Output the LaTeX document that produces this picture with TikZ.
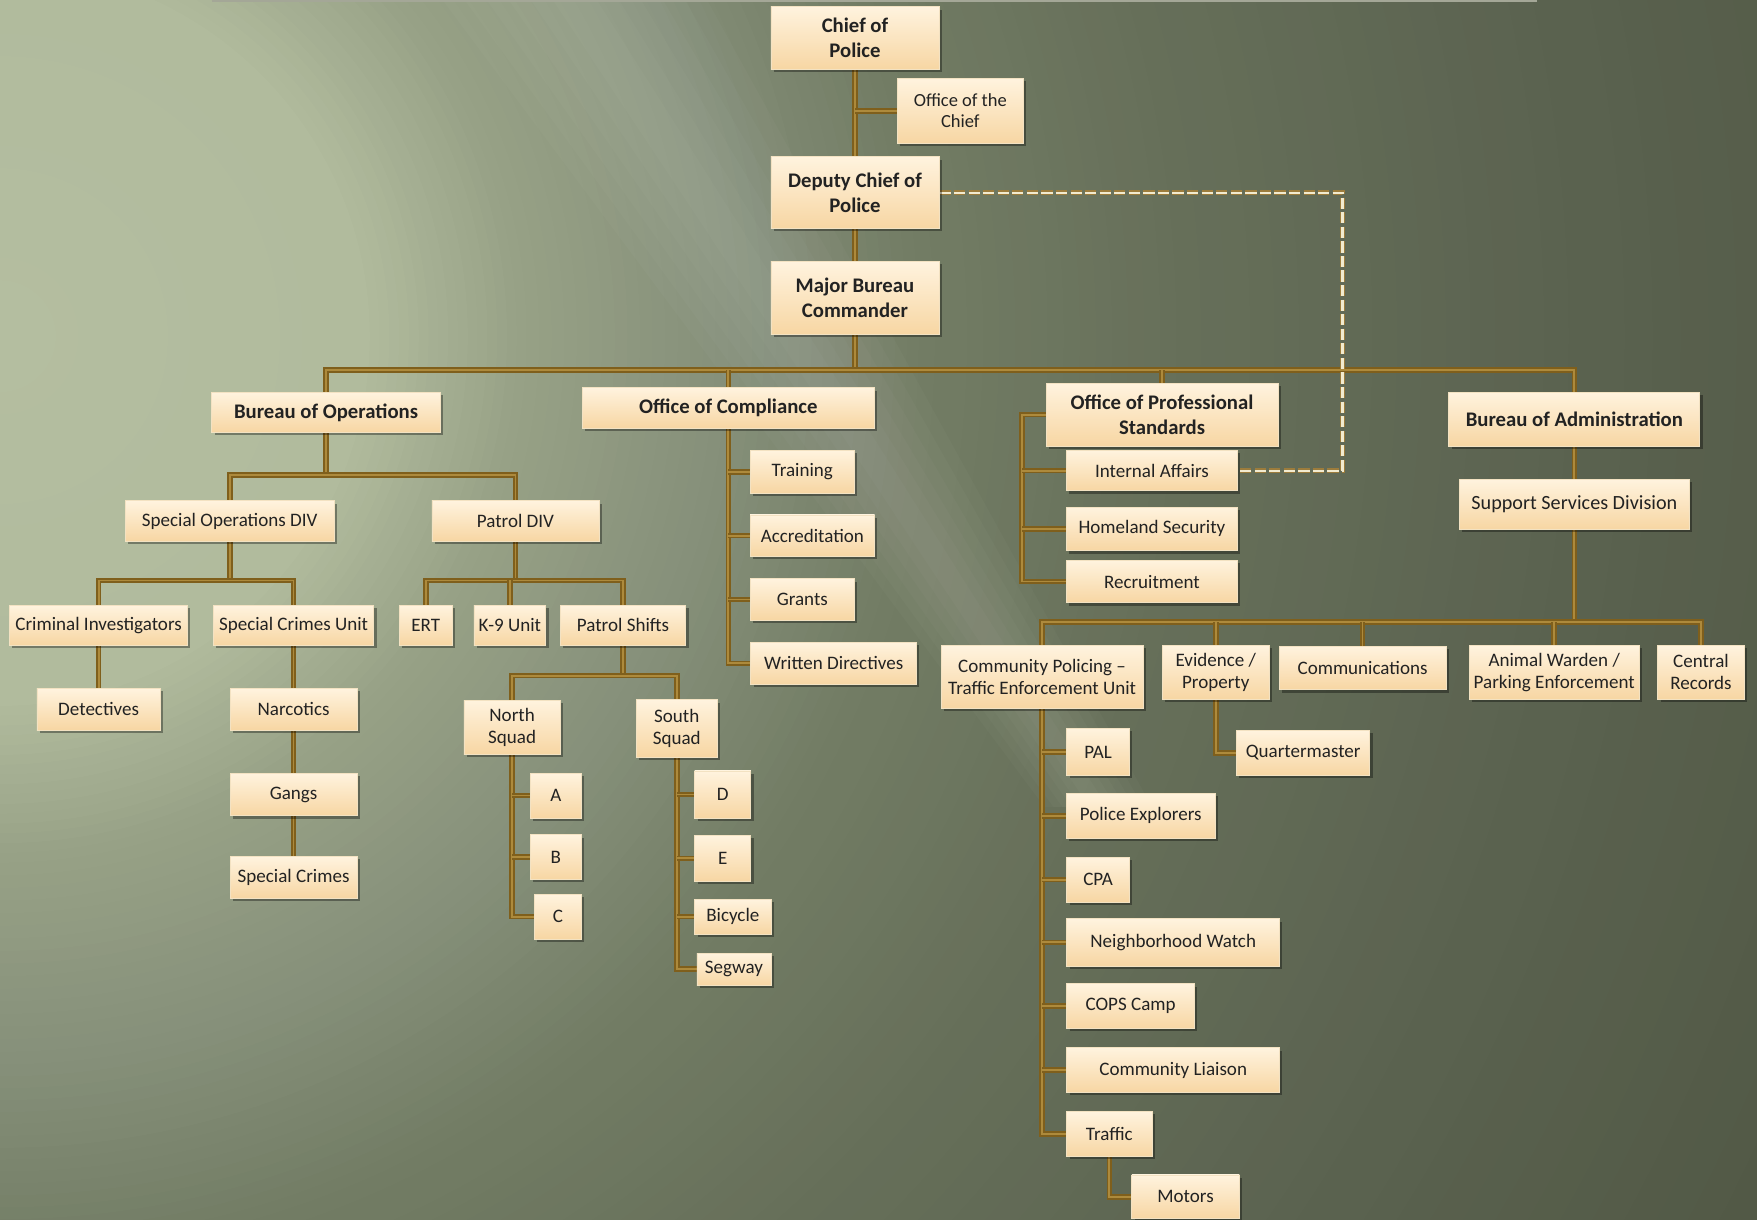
\documentclass[tikz,border=0pt]{standalone}
\usepackage{fontspec}
\setmainfont{Carlito}
\usetikzlibrary{shadows}
\definecolor{bgA}{HTML}{B4BEA0}
\definecolor{bgB}{HTML}{B1BB9D}
\definecolor{bgC}{HTML}{97A186}
\definecolor{bgD}{HTML}{86907A}
\definecolor{bgE}{HTML}{737D65}
\definecolor{bgF}{HTML}{67705A}
\definecolor{bgG}{HTML}{5B6350}
\definecolor{bgH}{HTML}{515845}
\definecolor{boxtop}{HTML}{FFF3DE}
\definecolor{boxbot}{HTML}{F7D6A3}
\definecolor{boxline}{HTML}{F3E2C2}
\definecolor{boxtext}{HTML}{222222}
\definecolor{lineout}{HTML}{7F5F1C}
\definecolor{linein}{HTML}{AD8A3C}
\definecolor{dashout}{HTML}{9C7C3C}
\definecolor{dashin}{HTML}{F2EBD0}
\definecolor{topln}{HTML}{A4A797}
\pgfdeclarelayer{bglayer}
\pgfdeclarelayer{lines}
\pgfsetlayers{bglayer,lines,main}
\begin{document}
\begin{tikzpicture}[x=1pt,y=-1pt,
  box/.style={draw=boxline, line width=0.7pt, top color=boxtop, bottom color=boxbot,
    drop shadow={shadow xshift=2.5pt,shadow yshift=-2.5pt,opacity=0.35,fill=black},
    text=boxtext, align=center, inner sep=1pt, font=\fontsize{17}{19.5}\selectfont},
  bbox/.style={box, font=\bfseries\fontsize{18.5}{22}\selectfont},
  conn/.style={draw=lineout, line width=5pt, postaction={draw=linein, line width=1.6pt}},
  dashconn/.style={draw=dashout, line width=4.4pt, dash pattern=on 10pt off 3pt,
    postaction={draw=dashin, line width=2pt, dash pattern=on 10pt off 3pt}}]
\useasboundingbox (0,0) rectangle (1568,1088);
\begin{pgfonlayer}{bglayer}
\begin{scope}
\clip (0,0) rectangle (1568,1088);
\fill[bgH] (0,0) rectangle (1568,1088);
\foreach \ro/\ri/\co/\ci in {1800/1400/bgH/bgG,1400/1050/bgG/bgF,1050/820/bgF/bgE,820/650/bgE/bgD,650/470/bgD/bgC,470/330/bgC/bgB,330/10/bgB/bgA}{
  \foreach \k in {0,...,16}{
    \pgfmathsetmacro\rr{\ro-(\ro-\ri)*\k/16}
    \pgfmathtruncatemacro\pp{100*\k/16}
    \fill[\ci!\pp!\co] (0,300) circle[radius=\rr];
  }
}
\foreach \w in {20,40,60,80,100,120}{
  \fill[white,opacity=0.022] (500-\w,-20) -- (500+\w,-20) -- (980+0.4*\w,720) -- (980-0.4*\w,720) -- cycle;
}
\draw[topln, line width=1.6pt] (189,1) -- (1372,1);
\end{scope}
\end{pgfonlayer}

% top chain
\node[bbox, minimum width=150pt, minimum height=56pt] (chief) at (763,34) {Chief of\\Police};
\node[box, minimum width=113pt, minimum height=58pt, font=\fontsize{16.5}{19}\selectfont] (office) at (857,99) {Office of the\\Chief};
\node[bbox, minimum width=150pt, minimum height=64pt] (deputy) at (763,172) {Deputy Chief of\\Police};
\node[bbox, minimum width=150pt, minimum height=65pt] (major) at (763,266) {Major Bureau\\Commander};
% bureaus
\node[bbox, minimum width=204pt, minimum height=36pt] (bops) at (291,368) {Bureau of Operations};
\node[bbox, minimum width=260pt, minimum height=36pt] (comp) at (650,364) {Office of Compliance};
\node[bbox, minimum width=207pt, minimum height=56pt] (ops) at (1037,370) {Office of Professional\\Standards};
\node[bbox, minimum width=224pt, minimum height=48pt] (badm) at (1405,374) {Bureau of Administration};
% operations
\node[box, minimum width=186pt, minimum height=36pt] (sod) at (205,465) {Special Operations DIV};
\node[box, minimum width=149pt, minimum height=36pt] (pdiv) at (460,465) {Patrol DIV};
\node[box, minimum width=159pt, minimum height=36pt] (crim) at (88,558) {Criminal Investigators};
\node[box, minimum width=143pt, minimum height=36pt] (scu) at (262,558) {Special Crimes Unit};
\node[box, minimum width=110pt, minimum height=37pt] (det) at (88,633) {Detectives};
\node[box, minimum width=113pt, minimum height=37pt] (narc) at (262,633) {Narcotics};
\node[box, minimum width=113pt, minimum height=38pt] (gangs) at (262,709) {Gangs};
\node[box, minimum width=113pt, minimum height=37pt] (spc) at (262,783) {Special Crimes};
\node[box, minimum width=47pt, minimum height=36pt] (ert) at (380,558) {ERT};
\node[box, minimum width=64pt, minimum height=36pt] (k9) at (455,558) {K-9 Unit};
\node[box, minimum width=112pt, minimum height=36pt] (ps) at (556,558) {Patrol Shifts};
\node[box, minimum width=86pt, minimum height=48pt] (ns) at (457,649) {North\\Squad};
\node[box, minimum width=72pt, minimum height=51pt] (ss) at (604,650) {South\\Squad};
\node[box, minimum width=45pt, minimum height=40pt] (a) at (496,710) {A};
\node[box, minimum width=45pt, minimum height=40pt] (b) at (496,765) {B};
\node[box, minimum width=42pt, minimum height=40pt] (c) at (498,818) {C};
\node[box, minimum width=50pt, minimum height=42pt] (d) at (645,709) {D};
\node[box, minimum width=50pt, minimum height=41pt] (e) at (645,766) {E};
\node[box, minimum width=68pt, minimum height=31pt] (bic) at (654,818) {Bicycle};
\node[box, minimum width=66pt, minimum height=29pt] (seg) at (655,865) {Segway};
% compliance
\node[box, minimum width=93pt, minimum height=38pt] (train) at (716,421) {Training};
\node[box, minimum width=111pt, minimum height=37pt] (accr) at (725,478) {Accreditation};
\node[box, minimum width=93pt, minimum height=37pt] (grants) at (716,535) {Grants};
\node[box, minimum width=148pt, minimum height=38pt] (wd) at (744,592) {Written Directives};
% professional standards
\node[box, minimum width=153pt, minimum height=36pt] (ia) at (1028,420) {Internal Affairs};
\node[box, minimum width=153pt, minimum height=39pt] (hs) at (1028,472) {Homeland Security};
\node[box, minimum width=153pt, minimum height=38pt] (rec) at (1028,519) {Recruitment};
% administration
\node[box, minimum width=205pt, minimum height=45pt, font=\fontsize{18}{21}\selectfont] (ssd) at (1405,450) {Support Services Division};
\node[box, minimum width=180pt, minimum height=56pt] (cp) at (930,604) {Community Policing –\\Traffic Enforcement Unit};
\node[box, minimum width=95pt, minimum height=48pt] (ev) at (1085,600) {Evidence /\\Property};
\node[box, minimum width=149pt, minimum height=39pt] (comm) at (1216,596) {Communications};
\node[box, minimum width=152pt, minimum height=48pt] (aw) at (1387,600) {Animal Warden /\\Parking Enforcement};
\node[box, minimum width=77pt, minimum height=48pt] (cr) at (1518,600) {Central\\Records};
\node[box, minimum width=119pt, minimum height=40pt] (qm) at (1163,672) {Quartermaster};
\node[box, minimum width=56pt, minimum height=42pt] (pal) at (980,671) {PAL};
\node[box, minimum width=133pt, minimum height=40pt] (pe) at (1018,728) {Police Explorers};
\node[box, minimum width=56pt, minimum height=40pt] (cpa) at (980,785) {CPA};
\node[box, minimum width=190pt, minimum height=42pt] (nw) at (1047,841) {Neighborhood Watch};
\node[box, minimum width=114pt, minimum height=40pt] (cops) at (1009,898) {COPS Camp};
\node[box, minimum width=190pt, minimum height=40pt] (cl) at (1047,955) {Community Liaison};
\node[box, minimum width=76pt, minimum height=40pt] (traffic) at (990,1012) {Traffic};
\node[box, minimum width=96pt, minimum height=39pt] (motors) at (1058,1068) {Motors};

\begin{pgfonlayer}{lines}
\coordinate (ybus) at (0,330);
\coordinate (yops) at (0,424);
\coordinate (ysod) at (0,518);
\coordinate (yps) at (0,603);
\coordinate (yadm) at (0,555);
\coordinate (xops) at (912,0);
\coordinate (xdash) at (1198,0);
\draw[conn] (chief.south) -- (deputy.north);
\draw[conn] (office.west) -- (chief.south |- office.west);
\draw[conn] (deputy.south) -- (major.north);
\draw[conn] (major.south) -- (major.south |- ybus);
\draw[conn] (bops.north) |- (badm.north |- ybus) -- (badm.north);
\draw[conn] (comp.north) -- (comp.north |- ybus);
\draw[conn] (ops.north) -- (ops.north |- ybus);
% operations
\draw[conn] (bops.south) -- (bops.south |- yops);
\draw[conn] (sod.north) |- (pdiv.north |- yops) -- (pdiv.north);
\draw[conn] (sod.south) -- (sod.south |- ysod);
\draw[conn] (crim.north) |- (scu.north |- ysod) -- (scu.north);
\draw[conn] (crim.south) -- (det.north);
\draw[conn] (scu.south) -- (narc.north);
\draw[conn] (narc.south) -- (gangs.north);
\draw[conn] (gangs.south) -- (spc.north);
\draw[conn] (pdiv.south) -- (pdiv.south |- ysod);
\draw[conn] (ert.north) |- (ps.north |- ysod) -- (ps.north);
\draw[conn] (k9.north) -- (k9.north |- ysod);
\draw[conn] (ps.south) -- (ps.south |- yps);
\draw[conn] (ns.north) |- (ss.north |- yps) -- (ss.north);
\draw[conn] (ns.south) |- (c.west);
\draw[conn] (a.west) -- (a.west -| ns.south);
\draw[conn] (b.west) -- (b.west -| ns.south);
\draw[conn] (ss.south) |- (seg.west);
\draw[conn] (d.west) -- (d.west -| ss.south);
\draw[conn] (e.west) -- (e.west -| ss.south);
\draw[conn] (bic.west) -- (bic.west -| ss.south);
% compliance
\draw[conn] (comp.south) |- (wd.west);
\draw[conn] (train.west) -- (train.west -| comp.south);
\draw[conn] (accr.west) -- (accr.west -| comp.south);
\draw[conn] (grants.west) -- (grants.west -| comp.south);
% professional standards
\draw[conn] (ops.west) -| (xops |- rec.west) -- (rec.west);
\draw[conn] (ia.west) -- (ia.west -| xops);
\draw[conn] (hs.west) -- (hs.west -| xops);
\draw[dashconn] (deputy.east) -- (deputy.east -| xdash) -- (xdash |- ia.east) -- (ia.east);
% administration
\draw[conn] (badm.south) -- (ssd.north);
\draw[conn] (ssd.south) -- (ssd.south |- yadm);
\draw[conn] (cp.north) |- (cr.north |- yadm) -- (cr.north);
\draw[conn] (ev.north) -- (ev.north |- yadm);
\draw[conn] (comm.north) -- (comm.north |- yadm);
\draw[conn] (aw.north) -- (aw.north |- yadm);
\draw[conn] (ev.south) |- (qm.west);
\draw[conn] (cp.south) |- (traffic.west);
\draw[conn] (pal.west) -- (pal.west -| cp.south);
\draw[conn] (pe.west) -- (pe.west -| cp.south);
\draw[conn] (cpa.west) -- (cpa.west -| cp.south);
\draw[conn] (nw.west) -- (nw.west -| cp.south);
\draw[conn] (cops.west) -- (cops.west -| cp.south);
\draw[conn] (cl.west) -- (cl.west -| cp.south);
\draw[conn] (traffic.south) |- (motors.west);
\end{pgfonlayer}
\end{tikzpicture}
\end{document}
